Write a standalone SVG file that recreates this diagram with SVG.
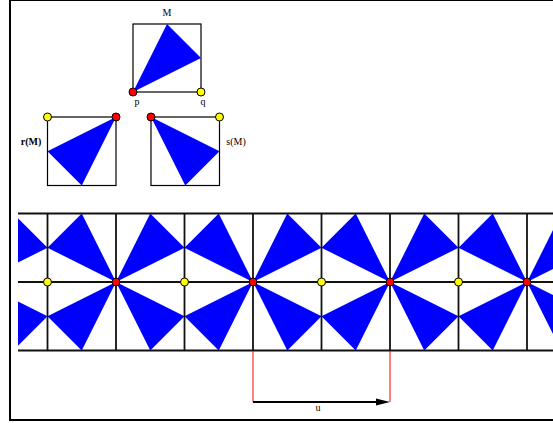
<svg xmlns="http://www.w3.org/2000/svg" xmlns:xlink="http://www.w3.org/1999/xlink" width="553" height="423" viewBox="0 0 553 423">
<style>
.tri{fill:#0000ff;stroke:none}
.box{fill:none;stroke:#000;stroke-width:1.2}
.grid{stroke:#111;stroke-width:1.8;fill:none}
.red{fill:#ff0000;stroke:#000;stroke-width:1}
.yel{fill:#ffff00;stroke:#000;stroke-width:1}
.lbl{font-family:"Liberation Serif","Times New Roman",serif;font-size:10px;fill:#000}
.vec{stroke:#ff0000;stroke-width:1;fill:none}
</style>
<defs>
<g id="fan">
<polygon class="tri" points="0,0 34.25,-68.5 68.5,-34.25"/>
<polygon class="tri" points="0,0 -34.25,-68.5 -68.5,-34.25"/>
<polygon class="tri" points="0,0 34.25,68.5 68.5,34.25"/>
<polygon class="tri" points="0,0 -34.25,68.5 -68.5,34.25"/>
</g>
<clipPath id="stripClip"><rect x="18" y="200" width="600" height="170"/></clipPath>
</defs>
<rect x="0" y="0" width="553" height="423" fill="#fff"/>
<rect x="10" y="0" width="620" height="420" fill="none" stroke="#000" stroke-width="2"/>

<g id="motif-M">
<rect class="box" x="133" y="24" width="68" height="68"/>
<polygon class="tri" points="133,92 167,24 201,58"/>
<circle class="red" cx="133" cy="92" r="4"/>
<circle class="yel" cx="201" cy="92" r="4"/>
<text class="lbl" x="167" y="16" text-anchor="middle">M</text>
<text class="lbl" x="137" y="105" text-anchor="middle">p</text>
<text class="lbl" x="203" y="105" text-anchor="middle">q</text>
</g>

<g id="motif-rM">
<rect class="box" x="47.5" y="117" width="68.5" height="68.5"/>
<polygon class="tri" points="116,117 81.75,185.5 47.5,151.25"/>
<circle class="yel" cx="47.5" cy="117" r="4"/>
<circle class="red" cx="116" cy="117" r="4"/>
<text class="lbl" x="31" y="145" text-anchor="middle" font-weight="bold">r(M)</text>
</g>

<g id="motif-sM">
<rect class="box" x="151" y="117" width="68.5" height="68.5"/>
<polygon class="tri" points="151,117 185.25,185.5 219.5,151.25"/>
<circle class="red" cx="151" cy="117" r="4"/>
<circle class="yel" cx="219.5" cy="117" r="4"/>
<text class="lbl" x="236" y="145" text-anchor="middle">s(M)</text>
</g>

<g id="strip">
<g clip-path="url(#stripClip)">
<use xlink:href="#fan" x="-21" y="282"/>
<use xlink:href="#fan" x="116" y="282"/>
<use xlink:href="#fan" x="253" y="282"/>
<use xlink:href="#fan" x="390" y="282"/>
<use xlink:href="#fan" x="527" y="282"/>
</g>
<line class="grid" x1="18" y1="213.5" x2="600" y2="213.5"/>
<line class="grid" x1="18" y1="282" x2="600" y2="282"/>
<line class="grid" x1="18" y1="350.5" x2="600" y2="350.5"/>
<line class="grid" x1="47.5" y1="213.5" x2="47.5" y2="350.5"/>
<line class="grid" x1="116" y1="213.5" x2="116" y2="350.5"/>
<line class="grid" x1="184.5" y1="213.5" x2="184.5" y2="350.5"/>
<line class="grid" x1="253" y1="213.5" x2="253" y2="350.5"/>
<line class="grid" x1="321.5" y1="213.5" x2="321.5" y2="350.5"/>
<line class="grid" x1="390" y1="213.5" x2="390" y2="350.5"/>
<line class="grid" x1="458.5" y1="213.5" x2="458.5" y2="350.5"/>
<line class="grid" x1="527" y1="213.5" x2="527" y2="350.5"/>
<circle class="yel" cx="47.5" cy="282" r="4"/>
<circle class="red" cx="116" cy="282" r="4"/>
<circle class="yel" cx="184.5" cy="282" r="4"/>
<circle class="red" cx="253" cy="282" r="4"/>
<circle class="yel" cx="321.5" cy="282" r="4"/>
<circle class="red" cx="390" cy="282" r="4"/>
<circle class="yel" cx="458.5" cy="282" r="4"/>
<circle class="red" cx="527" cy="282" r="4"/>
</g>

<g id="connectors">
<line class="vec" x1="253" y1="351" x2="253" y2="402"/>
<line class="vec" x1="390" y1="351" x2="390" y2="402"/>
<line x1="253" y1="402" x2="378" y2="402" stroke="#000" stroke-width="2"/>
<polygon points="390,402 376,398.5 376,405.5" fill="#000"/>
<text class="lbl" x="318" y="411" text-anchor="middle">u</text>
</g>
</svg>
